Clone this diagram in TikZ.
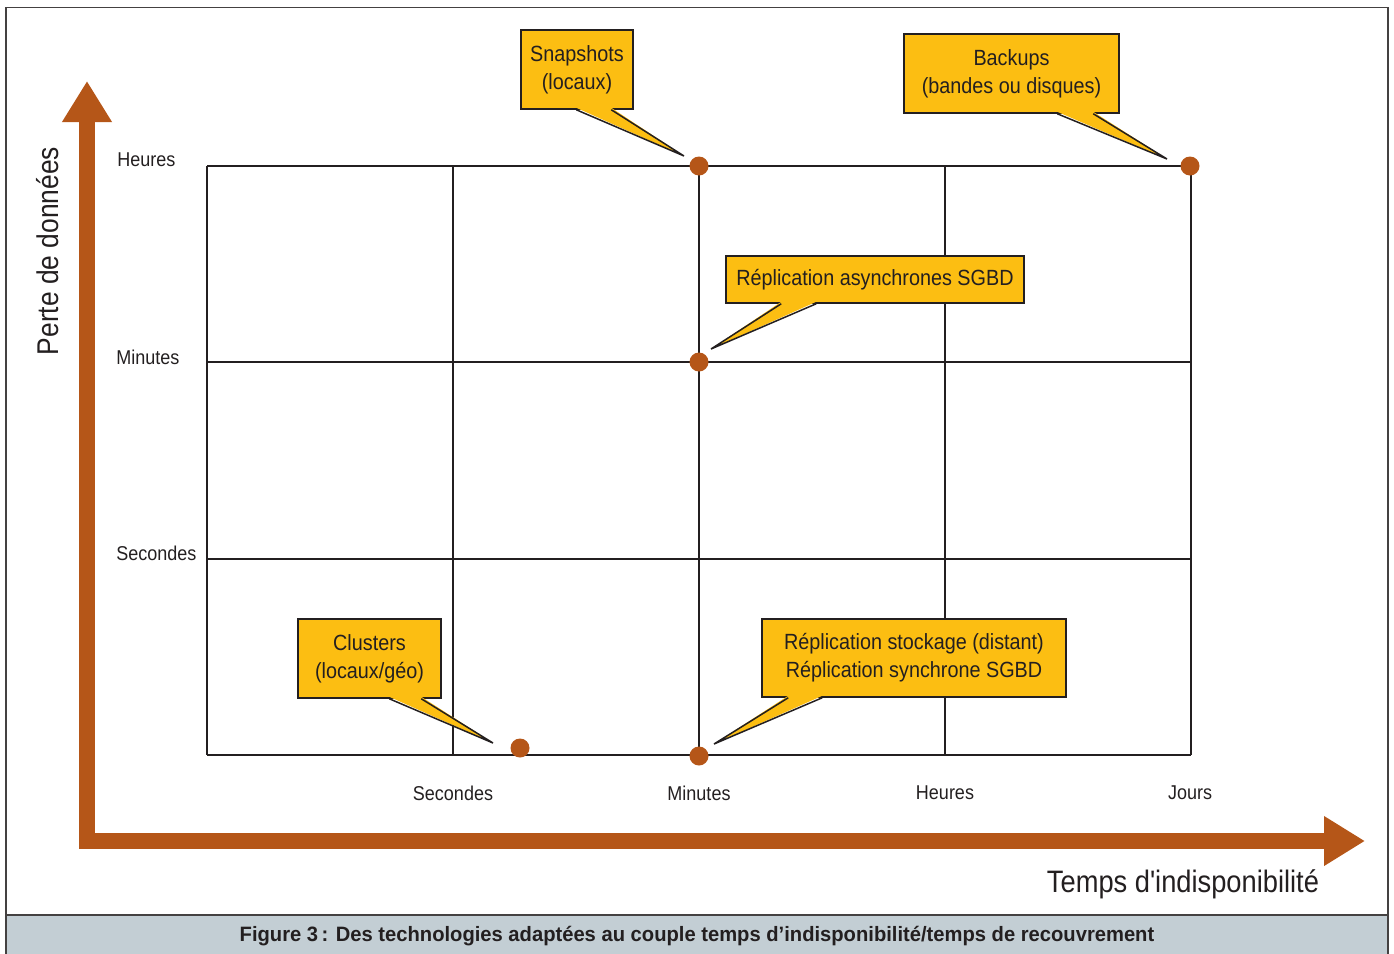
\documentclass[tikz,border=0pt]{standalone}
\usepackage{fontspec}
\setmainfont[FakeStretch=0.9]{Liberation Sans}
\newfontfamily\titrefont[FakeStretch=0.88]{Liberation Sans}
\newfontfamily\capfont[BoldFont={Liberation Sans Bold}, FakeStretch=0.97]{Liberation Sans}
\usepackage{tikz}
\usetikzlibrary{calc}
\usetikzlibrary{arrows.meta}
\usetikzlibrary{positioning}
\definecolor{brun}{RGB}{181,86,24}
\definecolor{jaune}{RGB}{252,190,18}
\definecolor{encre}{RGB}{35,31,32}
\definecolor{gris}{RGB}{195,206,212}
\tikzset{>=latex}
\tikzset{axe/.style = {line width=8pt, draw=brun, line join=miter,
  {Triangle[width=23.5pt,length=20.5pt]}-{Triangle[width=23.5pt,length=20.5pt]}}}
\tikzset{grille/.style = {line width=1.2pt, draw=encre}}
\tikzset{point/.style = {circle, fill=brun, inner sep=0pt, minimum size=9.5pt}}
\tikzset{graduation/.style = {font=\fontsize{10}{12}\selectfont, text=encre, inner sep=0pt}}
\tikzset{bulle/.style = {rectangle, draw=encre, line width=0.75pt, fill=jaune, align=center,
  text=encre, inner sep=0pt, font=\fontsize{11}{14}\selectfont}}
\tikzset{bullefond/.style = {fill=jaune}}
\tikzset{bulletrait/.style = {draw=encre, line width=0.75pt, line join=miter}}
\newcommand{\pointeur}[4]{%
  \fill [bullefond] ($(#1.south west)+(#2,-2)$) -- (#4) -- ($(#1.south west)+(#3,-2)$) -- cycle;
  \draw [bulletrait] ($(#1.south west)+(#2,0)$) -- (#4) -- ($(#1.south west)+(#3,0)$);
}

\begin{document}
\begin{tikzpicture}[x=0.5pt, y=-0.5pt]
\useasboundingbox (0,0) rectangle (1394,954);
% cadre et legende
\fill [gris] (6,915) rectangle (1388,954);
\draw [draw=encre!85, line width=0.9pt] (6,954) -- (6,7.5) -- (1388,7.5) -- (1388,954);
\draw [draw=encre!85, line width=0.9pt] (6,915) -- (1388,915);
\node [text=encre, font=\capfont\bfseries\fontsize{10.4}{12}\selectfont] (legende) at (697,936)
  {Figure 3\,: Des technologies adaptées au couple temps d’indisponibilité/temps de recouvrement};
% grille
\foreach \x in {207,453,699,945,1191}
  \draw [grille] (\x,166) -- (\x,755);
\foreach \y in {166,362,559,755}
  \draw [grille] (207,\y) -- (1191,\y);
% axes
\coordinate (O) at (87,841);
\coordinate (ytip) at (87,81);
\coordinate (xtip) at (1365,841);
\draw [axe] (ytip) -- (O) -- (xtip);
\node [rotate=90, text=encre, font=\titrefont\fontsize{15}{18}\selectfont] (pertes) at (48,251) {Perte de données};
\node [text=encre, font=\titrefont\fontsize{15.5}{18}\selectfont] (temps) at (1183,884) {Temps d'indisponibilité};
% graduations
\node [graduation, anchor=west] (yh) at (117,160) {Heures};
\node [graduation, anchor=west] (ym) at (116,357) {Minutes};
\node [graduation, anchor=west] (ys) at (116,553) {Secondes};
\node [graduation] (xs) at (453,793) {Secondes};
\node [graduation] (xm) at (699,793) {Minutes};
\node [graduation] (xh) at (945,793) {Heures};
\node [graduation] (xj) at (1190,793) {Jours};
% points
\node [point] (pSnap) at (699,166) {};
\node [point] (pBack) at (1190,166) {};
\node [point] (pAsync) at (699,362) {};
\node [point] (pClus) at (520,748) {};
\node [point] (pStock) at (699,756) {};
% bulles
\node [bulle, minimum width=56pt, minimum height=39.5pt] (snap) at (577,69.5) {Snapshots\\(locaux)};
\node [bulle, minimum width=107.5pt, minimum height=39.5pt] (back) at (1011.5,73.5) {Backups\\(bandes ou disques)};
\node [bulle, minimum width=149pt, minimum height=23.5pt] (async) at (875,279.5) {Réplication asynchrones SGBD};
\node [bulle, minimum width=71.5pt, minimum height=39.5pt] (clus) at (369.5,658.5) {Clusters\\(locaux/géo)};
\node [bulle, minimum width=152pt, minimum height=39pt] (stock) at (914,658) {Réplication stockage (distant)\\Réplication synchrone SGBD};
\coordinate (tSnap) at (684,156);
\coordinate (tBack) at (1167,159);
\coordinate (tAsync) at (711,349);
\coordinate (tClus) at (493,743);
\coordinate (tStock) at (714,744);
\pointeur{snap}{56}{91}{tSnap}
\pointeur{back}{154}{190}{tBack}
\pointeur{async}{56}{91}{tAsync}
\pointeur{clus}{92}{124}{tClus}
\pointeur{stock}{27}{61}{tStock}
\end{tikzpicture}
\end{document}
